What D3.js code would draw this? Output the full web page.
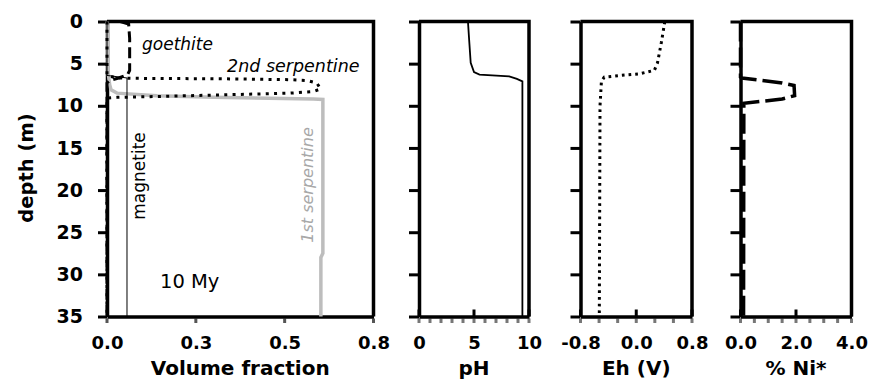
<!DOCTYPE html>
<html>
<head>
<meta charset="utf-8">
<script src="https://cdn.jsdelivr.net/npm/d3@7"></script>
<style>
body { margin: 0; background: #fff; }
text { font-family: "DejaVu Sans", sans-serif; }
</style>
</head>
<body>
<svg id="chart" width="877" height="381"></svg>
<script>
// shared depth axis
const depthTicks = [0, 5, 10, 15, 20, 25, 30, 35];

// panel 1 : volume fraction of minerals
const volTicks = [0, 0.2667, 0.5333, 0.8];
const volTickLabels = ['0.0', '0.3', '0.5', '0.8'];
const goethiteDepth = [0, 0.3, 2, 5.8, 6.3, 6.7, 7.0, 7.3, 35];
const goethite = [0.04, 0.065, 0.068, 0.068, 0.062, 0.035, 0.008, 0, 0];
const serp2Depth = [0, 6.4, 6.7, 6.75, 6.8, 6.9, 7.0, 7.3, 8.0, 8.3, 8.5, 8.7, 8.9, 9.0, 9.1, 35];
const serp2 = [0, 0, 0.03, 0.1, 0.35, 0.55, 0.6, 0.63, 0.641, 0.62, 0.55, 0.35, 0.15, 0.03, 0, 0];
const serp1Depth = [0, 6.2, 7.5, 8.1, 8.5, 8.8, 9.0, 9.2, 9.25, 27.5, 28, 35];
const serp1 = [0, 0.004, 0.008, 0.012, 0.03, 0.15, 0.32, 0.62, 0.648, 0.648, 0.642, 0.642];
const magnetiteDepth = [0, 6.4, 6.7, 35];
const magnetite = [0, 0, 0.06, 0.06];

// panel 2 : pH
const phTicks = [0, 5, 10];
const phTickLabels = ['0', '5', '10'];
const phDepth = [0, 2, 4.9, 6.0, 6.3, 6.5, 6.8, 7.1, 35];
const ph = [4.45, 4.55, 4.7, 5.0, 5.5, 8.2, 8.9, 9.4, 9.4];

// panel 3 : Eh
const ehTicks = [-0.8, 0, 0.8];
const ehTickLabels = ['-0.8', '0.0', '0.8'];
const ehDepth = [0, 1, 2.5, 4.9, 5.8, 6.2, 6.4, 6.6, 7.1, 10, 35];
const eh = [0.41, 0.39, 0.36, 0.305, 0.26, 0.05, -0.23, -0.46, -0.5, -0.52, -0.53];

// panel 4 : % Ni*
const niTicks = [0, 2, 4];
const niTickLabels = ['0.0', '2.0', '4.0'];
const niDepth = [0, 6.6, 6.7, 7.3, 7.6, 8.8, 9.2, 9.7, 35];
const ni = [0, 0, 0.05, 1.5, 1.93, 1.95, 1.5, 0.12, 0.11];

const svg = d3.select('#chart');
const y = d3.scaleLinear().domain([0, 35]).range([21.5, 316.5]);

function panel(x0, x1, domain, ticks, labels, minorStep, title, first) {
    let x = d3.scaleLinear().domain(domain).range([x0, x1]);
    let g = svg.append('g');

    // top + right border
    g.append('path')
        .attr('d', 'M' + x0 + ',' + y(0) + 'H' + x1 + 'V' + y(35))
        .attr('fill', 'none').attr('stroke', '#000').attr('stroke-width', 3.5);

    // minor / outside ticks under the bottom axis
    let minor = first ? ticks : d3.range(domain[0], domain[1] + minorStep / 2, minorStep);
    g.selectAll('.minor').data(minor).enter().append('line')
        .attr('x1', d => x(d)).attr('x2', d => x(d))
        .attr('y1', y(35) + 2).attr('y2', y(35) + 6.5)
        .attr('stroke', first ? '#555' : '#777').attr('stroke-width', 3);

    // inside major ticks
    if (!first) {
        g.selectAll('.major').data(ticks).enter().append('line')
            .attr('x1', d => x(d)).attr('x2', d => x(d))
            .attr('y1', y(35)).attr('y2', y(35) - 7)
            .attr('stroke', '#000').attr('stroke-width', 3);
    }

    let xAxis = d3.axisBottom(x).tickValues(ticks).tickSize(0).tickPadding(20)
        .tickFormat((d, i) => labels[i]);
    let gx = g.append('g')
        .attr('transform', 'translate(0,' + y(35) + ')')
        .call(xAxis);
    gx.select('.domain').attr('stroke-width', 3.5);
    gx.selectAll('text').attr('font-size', 18).attr('font-weight', 'bold')
        .attr('font-family', '"DejaVu Sans", sans-serif').attr('fill', '#000');

    let yAxis = d3.axisLeft(y).tickValues(depthTicks).tickSize(first ? 9 : 10).tickSizeOuter(0)
        .tickPadding(15).tickFormat(first ? d3.format('d') : '');
    let gy = g.append('g')
        .attr('transform', 'translate(' + x0 + ',0)')
        .call(yAxis);
    gy.select('.domain').attr('stroke-width', 3.5);
    gy.selectAll('.tick line').attr('stroke-width', 3);
    gy.selectAll('text').attr('font-size', 19).attr('font-weight', 'bold')
        .attr('font-family', '"DejaVu Sans", sans-serif').attr('fill', '#000');

    g.append('text')
        .attr('x', (x0 + x1) / 2).attr('y', 375)
        .attr('text-anchor', 'middle')
        .attr('font-size', 20).attr('font-weight', 'bold')
        .text(title);

    return x;
}

function series(x, depth, vals, color, width, dash) {
    let line = d3.line().x(d => x(d[1])).y(d => y(d[0]));
    svg.append('path')
        .datum(d3.zip(depth, vals))
        .attr('d', line)
        .attr('fill', 'none')
        .attr('stroke', color)
        .attr('stroke-width', width)
        .attr('stroke-dasharray', dash);
}

let xVol = panel(107, 373.5, [0, 0.8], volTicks, volTickLabels, 0, 'Volume fraction', true);
let xPh = panel(419, 529, [0, 10], phTicks, phTickLabels, 1, 'pH', false);
let xEh = panel(580.5, 692, [-0.8, 0.8], ehTicks, ehTickLabels, 1.6 / 6, 'Eh (V)', false);
let xNi = panel(740.5, 851.5, [0, 4], niTicks, niTickLabels, 0.5, '% Ni*', false);

series(xVol, serp1Depth, serp1, '#bdbdbd', 3.5, null);
series(xVol, magnetiteDepth, magnetite, '#000', 1, null);
series(xVol, goethiteDepth, goethite, '#000', 3, '11,5');
series(xVol, serp2Depth, serp2, '#000', 3, '3,5.3');
series(xPh, phDepth, ph, '#000', 1.8, null);
series(xEh, ehDepth, eh, '#000', 3, '2.7,4');
series(xNi, niDepth, ni, '#000', 3.5, '20,6');

// depth title
svg.append('text')
    .attr('transform', 'translate(33,168) rotate(-90)')
    .attr('text-anchor', 'middle')
    .attr('font-size', 19.5).attr('font-weight', 'bold')
    .text('depth (m)');

// in-plot labels
svg.append('text').attr('x', 142).attr('y', 50)
    .attr('font-size', 17).attr('font-style', 'italic').text('goethite');
svg.append('text').attr('x', 227).attr('y', 72)
    .attr('font-size', 17.5).attr('font-style', 'italic').text('2nd serpentine');
svg.append('text')
    .attr('transform', 'translate(145,176) rotate(-90)')
    .attr('text-anchor', 'middle')
    .attr('font-size', 17).text('magnetite');
svg.append('text')
    .attr('transform', 'translate(313,185) rotate(-90)')
    .attr('text-anchor', 'middle')
    .attr('font-size', 16).attr('font-style', 'italic').attr('fill', '#a8a8a8')
    .text('1st serpentine');
svg.append('text').attr('x', 160).attr('y', 288)
    .attr('font-size', 19.5).text('10 My');
</script>
</body>
</html>
